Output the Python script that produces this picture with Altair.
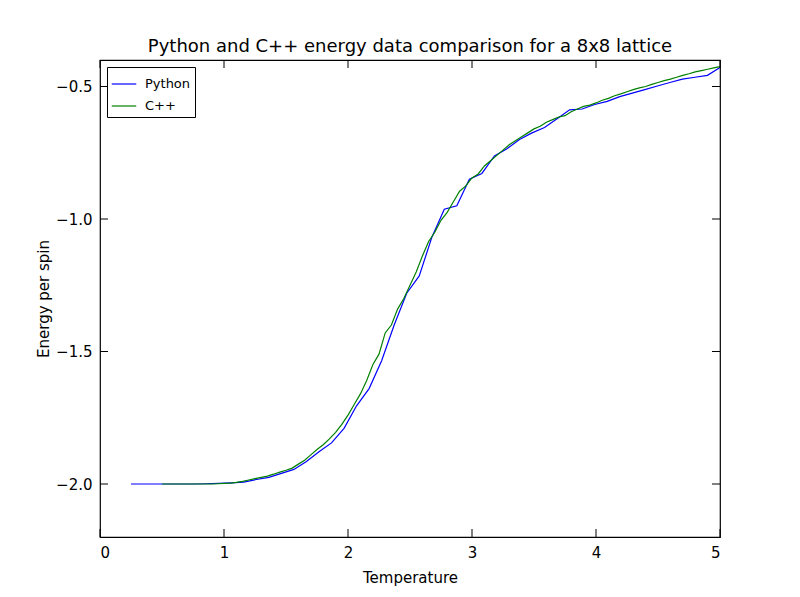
import altair as alt
import numpy as np
import pandas as pd

py_T = np.linspace(0.25, 5.0, 48)
py_E = [-2.0, -2.0, -2.0, -2.0, -2.0, -2.0, -1.999, -1.998,
        -1.996, -1.993, -1.983, -1.975, -1.96, -1.945, -1.915, -1.878, -1.845, -1.79,
        -1.705, -1.64, -1.535, -1.40, -1.28, -1.215, -1.07, -0.963, -0.95, -0.85,
        -0.828, -0.762, -0.735, -0.70, -0.675, -0.655, -0.622, -0.588, -0.585, -0.568,
        -0.556, -0.538, -0.525, -0.512, -0.498, -0.485, -0.472, -0.465, -0.458, -0.428]

cpp_T = np.round(np.arange(0.5, 5.001, 0.05), 2)
cpp_E = [-2.0] * 9 + [-1.999, -1.998,
         -1.997, -1.994, -1.99, -1.985, -1.98, -1.975, -1.97, -1.963, -1.955, -1.948,
         -1.94, -1.925, -1.91, -1.89, -1.87, -1.852, -1.83, -1.805, -1.775, -1.74,
         -1.70, -1.66, -1.61, -1.55, -1.51, -1.43, -1.40, -1.34, -1.30, -1.25,
         -1.20, -1.14, -1.085, -1.05, -1.005, -0.975, -0.935, -0.895, -0.875, -0.845,
         -0.83, -0.80, -0.78, -0.76, -0.74, -0.72, -0.705, -0.69, -0.675, -0.66,
         -0.65, -0.635, -0.625, -0.615, -0.61, -0.595, -0.585, -0.575, -0.57, -0.562,
         -0.552, -0.545, -0.535, -0.528, -0.52, -0.512, -0.505, -0.50, -0.492, -0.485,
         -0.478, -0.472, -0.465, -0.458, -0.452, -0.445, -0.44, -0.435, -0.43, -0.425]

x_ticks = [0, 1, 2, 3, 4, 5]
y_ticks = [-2.0, -1.5, -1.0, -0.5]

data = pd.concat([
    pd.DataFrame({"T": py_T, "E": py_E, "series": "Python"}),
    pd.DataFrame({"T": cpp_T, "E": cpp_E, "series": "C++"}),
])

xs = alt.Scale(domain=[0, 5], nice=False)
ys = alt.Scale(domain=[-2.2, -0.4], nice=False, zero=False)

lines = alt.Chart(data).mark_line(strokeWidth=1.2).encode(
    x=alt.X("T:Q", scale=xs, title="Temperature",
            axis=alt.Axis(values=x_ticks, ticks=False, grid=False, labelPadding=8,
                          titlePadding=10, format="d")),
    y=alt.Y("E:Q", scale=ys, title="Energy per spin",
            axis=alt.Axis(values=y_ticks, ticks=False, grid=False, labelPadding=8, format=".1f")),
    color=alt.Color("series:N", sort=["Python", "C++"],
                    scale=alt.Scale(domain=["Python", "C++"], range=["#0000ff", "#008000"]),
                    legend=alt.Legend(title=None, orient="top-left", offset=7, symbolType="stroke",
                                      symbolSize=600, symbolStrokeWidth=1.2, strokeColor="black",
                                      fillColor="white", padding=4, labelFontSize=13,
                                      cornerRadius=0, rowPadding=2, labelLimit=200,
                                      legendX=8, legendY=6, labelOffset=8)),
)

xt = pd.DataFrame({"t": x_ticks})
yt = pd.DataFrame({"t": y_ticks})
xtick_b = alt.Chart(xt).mark_rule(color="black").encode(
    x=alt.X("t:Q", scale=xs), y=alt.value(477), y2=alt.value(469))
xtick_t = alt.Chart(xt).mark_rule(color="black").encode(
    x=alt.X("t:Q", scale=xs), y=alt.value(0), y2=alt.value(8))
ytick_l = alt.Chart(yt).mark_rule(color="black").encode(
    y=alt.Y("t:Q", scale=ys), x=alt.value(0), x2=alt.value(8))
ytick_r = alt.Chart(yt).mark_rule(color="black").encode(
    y=alt.Y("t:Q", scale=ys), x=alt.value(620), x2=alt.value(612))

chart = alt.layer(lines, xtick_b, xtick_t, ytick_l, ytick_r).properties(
    width=620, height=477,
    title=alt.Title("Python and C++ energy data comparison for a 8x8 lattice",
                    fontSize=18, fontWeight="normal", offset=4),
    autosize=alt.AutoSizeParams(type="none"),
    padding={"left": 92, "top": 52, "right": 72, "bottom": 52},
).configure(font="DejaVu Sans").configure_view(
    stroke="black", strokeWidth=1.2
).configure_axis(
    labelFontSize=15, titleFontSize=15, titleFontWeight="normal",
    labelColor="black", titleColor="black", domain=False
).configure_title(color="black")

chart.save("out.html", embed_options={"renderer": "svg", "actions": False})
